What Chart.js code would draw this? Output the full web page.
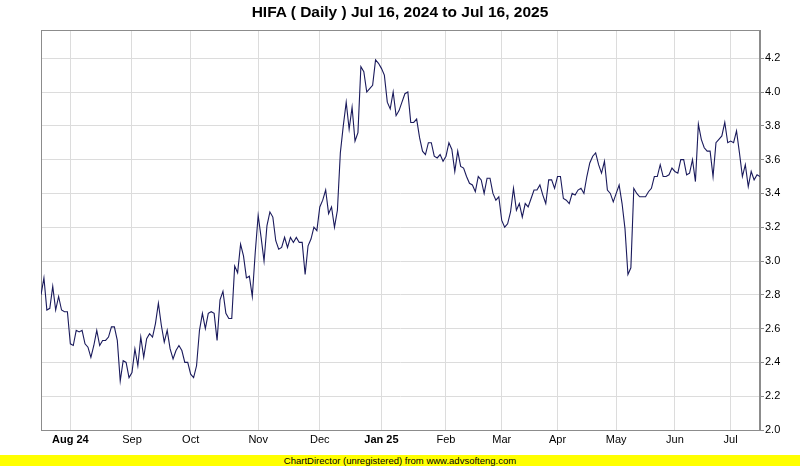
<!DOCTYPE html>
<html>
<head>
<meta charset="utf-8">
<script src="https://cdn.jsdelivr.net/npm/chart.js@4.4.1/dist/chart.umd.min.js"></script>
<style>
  html, body { margin: 0; padding: 0; background: #fff; overflow: hidden; }
  #wrap { position: relative; width: 800px; height: 466px; }
  #title { position: absolute; left: 0; top: 3px; width: 800px; text-align: center;
           font: bold 15.5px "Liberation Sans", Arial, sans-serif; color: #000; line-height: 18px; }
  #banner { position: absolute; left: 0; top: 455px; width: 800px; height: 11px; background: #ffff00;
            text-align: center; font: 9.5px "Liberation Sans", Arial, sans-serif; line-height: 11px; color: #000; }
  canvas { position: absolute; left: 0; top: 0; }
</style>
</head>
<body>
<div id="wrap">
  <canvas id="c" width="800" height="466"></canvas>
  <div id="title">HIFA ( Daily ) Jul 16, 2024 to Jul 16, 2025</div>
  <div id="banner">ChartDirector (unregistered) from www.advsofteng.com</div>
</div>
<script>
// ---- data ----
const monthLabels = ["Aug 24","Sep","Oct","Nov","Dec","Jan 25","Feb","Mar","Apr","May","Jun","Jul"];
const monthStartIdx = [10, 31, 51, 74, 95, 116, 138, 157, 176, 196, 216, 235];
const yTicks = [2.0, 2.2, 2.4, 2.6, 2.8, 3.0, 3.2, 3.4, 3.6, 3.8, 4.0, 4.2];
const closePrices = [
  2.80, 2.90, 2.71, 2.72, 2.85, 2.71, 2.79, 2.71, 2.70, 2.70,
  2.51, 2.50, 2.59, 2.58, 2.59, 2.51, 2.49, 2.43, 2.50, 2.59,
  2.50, 2.53, 2.53, 2.55, 2.61, 2.61, 2.53, 2.29, 2.41, 2.40,
  2.31, 2.34, 2.48, 2.38, 2.55, 2.43, 2.54, 2.57, 2.55, 2.63,
  2.75, 2.62, 2.52, 2.59, 2.48, 2.42, 2.47, 2.50, 2.47, 2.40,
  2.40, 2.33, 2.31, 2.38, 2.59, 2.69, 2.60, 2.69, 2.70, 2.69,
  2.53, 2.77, 2.82, 2.69, 2.66, 2.66, 2.97, 2.93, 3.10, 3.03,
  2.90, 2.91, 2.79, 3.05, 3.27, 3.14, 3.00, 3.21, 3.29, 3.26,
  3.12, 3.07, 3.08, 3.14, 3.08, 3.14, 3.11, 3.14, 3.11, 3.11,
  2.92, 3.09, 3.13, 3.20, 3.18, 3.32, 3.36, 3.42, 3.28, 3.32,
  3.20, 3.30,
  3.64, 3.80, 3.94, 3.78, 3.91, 3.71, 3.76, 4.15, 4.12, 4.00,
  4.02, 4.04, 4.19, 4.17, 4.14, 4.10, 3.94, 3.90, 4.00, 3.86,
  3.89, 3.94, 3.99, 4.00, 3.82, 3.82, 3.84, 3.73, 3.65, 3.63,
  3.70, 3.70, 3.62, 3.61, 3.63, 3.59, 3.62, 3.70, 3.66, 3.53,
  3.65, 3.56, 3.55, 3.50, 3.46, 3.45, 3.41,
  3.50, 3.48, 3.40, 3.49, 3.49, 3.40, 3.36, 3.38, 3.24, 3.20,
  3.22, 3.29, 3.43, 3.30, 3.34, 3.26, 3.34, 3.32, 3.37, 3.42,
  3.42, 3.45, 3.39, 3.34, 3.48, 3.48, 3.43, 3.50, 3.50, 3.37,
  3.36, 3.34, 3.40, 3.39, 3.42, 3.43, 3.40, 3.50, 3.58, 3.62,
  3.64, 3.57, 3.52, 3.59, 3.42, 3.40, 3.35, 3.40, 3.45, 3.34,
  3.19, 2.92, 2.96, 3.43, 3.40, 3.38, 3.38, 3.38, 3.41, 3.43,
  3.50, 3.50, 3.57, 3.50, 3.50, 3.51, 3.55, 3.53, 3.52, 3.60,
  3.60, 3.51, 3.52, 3.60, 3.47, 3.81, 3.72, 3.67, 3.65, 3.65,
  3.50, 3.70, 3.72, 3.74, 3.82, 3.70, 3.71, 3.70, 3.77, 3.64,
  3.50, 3.57, 3.44, 3.53, 3.48, 3.51, 3.50
];
const yMin = 2.0, yMax = 4.367;

const FONT = '"Liberation Sans", Arial, sans-serif';

const frame = {
  id: 'frame',
  beforeDatasetsDraw(chart) {
    const a = chart.chartArea, c = chart.ctx;
    c.save();
    c.strokeStyle = '#8c8c8c';
    c.lineWidth = 1;
    c.strokeRect(Math.round(a.left) + 0.5, Math.round(a.top) + 0.5,
                 Math.round(a.right - a.left) - 1, Math.round(a.bottom - a.top));
    c.restore();
  }
};

new Chart(document.getElementById('c'), {
  type: 'line',
  data: {
    datasets: [{
      data: closePrices.map((v, i) => ({ x: i, y: v })),
      borderColor: '#1a1a5c',
      borderWidth: 1.1,
      pointRadius: 0,
      tension: 0,
      fill: false
    }]
  },
  options: {
    responsive: false,
    animation: false,
    events: [],
    layout: { padding: { left: 41, top: 30, right: 0, bottom: 0 } },
    plugins: { legend: { display: false }, tooltip: { enabled: false }, title: { display: false } },
    scales: {
      x: {
        type: 'linear',
        min: 0,
        max: closePrices.length - 1,
        afterBuildTicks: s => { s.ticks = monthStartIdx.map(v => ({ value: v })); },
        afterFit: s => { s.height = 36; },
        grid: { color: '#dcdcdc', drawTicks: false },
        border: { display: true, color: '#8c8c8c' },
        ticks: {
          autoSkip: false, maxRotation: 0, padding: 3, color: '#000',
          font: c => ({ family: FONT, size: 11,
                        weight: (c.tick && monthLabels[monthStartIdx.indexOf(c.tick.value)] || '').indexOf(' ') > 0 ? 'bold' : 'normal' }),
          callback: v => { const k = monthStartIdx.indexOf(v); return k >= 0 ? monthLabels[k] : ''; }
        }
      },
      y: {
        position: 'right',
        min: yMin,
        max: yMax,
        afterBuildTicks: s => { s.ticks = yTicks.map(v => ({ value: v })); },
        afterFit: s => { s.width = 40; },
        grid: { color: '#dcdcdc', drawTicks: true, tickLength: 4, tickColor: '#8c8c8c' },
        border: { display: true, color: '#8c8c8c' },
        ticks: { padding: 1, color: '#000', font: { family: FONT, size: 11 }, callback: v => v.toFixed(1) }
      }
    }
  },
  plugins: [frame]
});
</script>
</body>
</html>
